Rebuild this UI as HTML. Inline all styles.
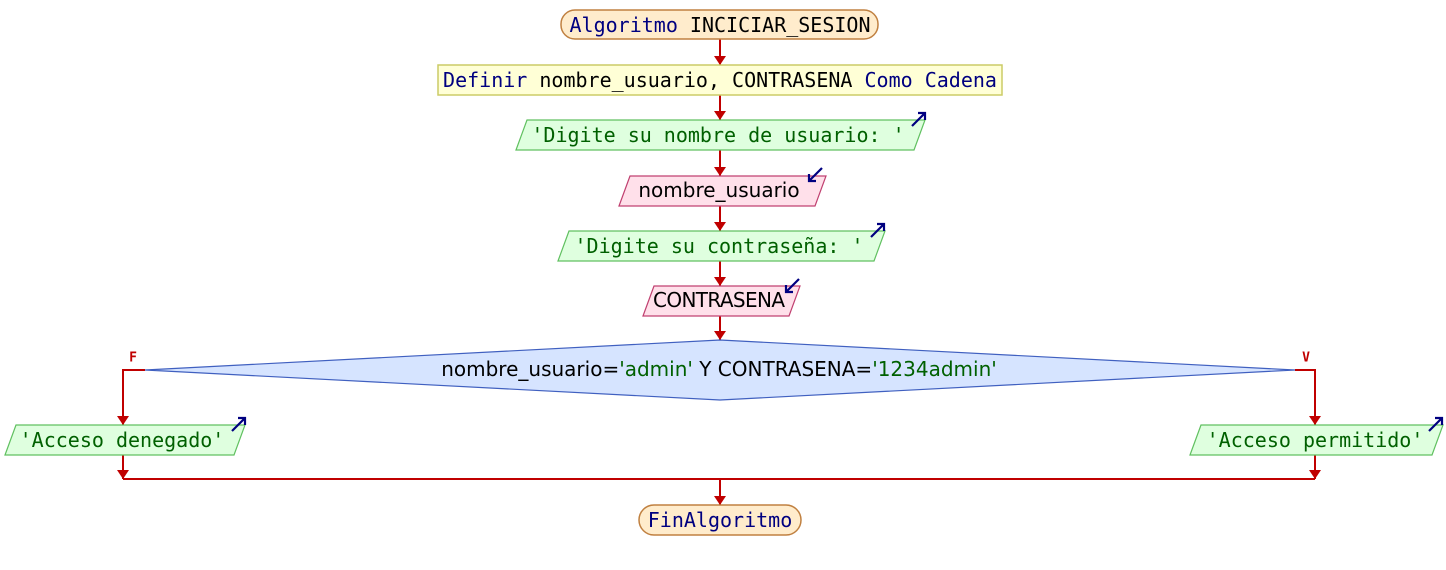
<!DOCTYPE html>
<html><head><meta charset="utf-8"><style>
html,body{margin:0;padding:0;background:#fff}
svg{display:block}
text{font-family:"DejaVu Sans Mono","Liberation Mono",monospace;font-size:20px;dominant-baseline:central;text-anchor:middle}
.p{font-family:"DejaVu Sans","Liberation Sans",sans-serif}
.ln{stroke:#c00000;stroke-width:2;fill:none}
.ah{fill:#c00000}
.io{stroke:#000080;stroke-width:2.2;fill:none}
</style></head><body>
<svg width="1446" height="570" viewBox="0 0 1446 570">
<defs>
<g id="ah"><path class="ah" d="M-6,-9 L6,-9 L0,0 Z"/></g>
<g id="out"><path class="io" d="M0,13 L13,0 M6,0 L13,0 L13,7"/></g>
<g id="in"><path class="io" d="M13,0 L0,13 M0,6 L0,13 L7,13"/></g>
</defs>
<path class="ln" d="M720,39 V65 M720,95 V120 M720,150 V176 M720,206 V231 M720,261 V286 M720,316 V340"/>
<use href="#ah" x="720" y="65"/><use href="#ah" x="720" y="120"/><use href="#ah" x="720" y="176"/><use href="#ah" x="720" y="231"/><use href="#ah" x="720" y="286"/><use href="#ah" x="720" y="340"/>
<path class="ln" d="M145,370 H123 V425 M1295,370 H1315 V425 M123,455 V479 M1315,455 V479 M123,479 H1315 M720,479 V505"/>
<use href="#ah" x="123" y="425"/><use href="#ah" x="1315" y="425"/><use href="#ah" x="123" y="479"/><use href="#ah" x="1315" y="479"/><use href="#ah" x="720" y="505"/>
<text x="133" y="358" style="font-size:13px;font-weight:bold;fill:#c00000">F</text>
<text x="1306" y="358" style="font-size:13px;font-weight:bold;fill:#c00000">V</text>
<rect x="561" y="10" width="317" height="29" rx="14" fill="#ffeccc" stroke="#c08040" stroke-width="1.5"/>
<text x="720" y="25"><tspan fill="#000080">Algoritmo</tspan><tspan fill="#000"> INCICIAR_SESION</tspan></text>
<rect x="438" y="65" width="564" height="30" fill="#ffffd6" stroke="#cccc66" stroke-width="1.5"/>
<text x="720" y="80"><tspan fill="#000080">Definir</tspan><tspan fill="#000"> nombre_usuario, CONTRASENA </tspan><tspan fill="#000080">Como Cadena</tspan></text>
<path d="M516,150 L527,120 L925,120 L914,150 Z" fill="#dfffdf" stroke="#60c060" stroke-width="1.2"/>
<text x="718" y="135" fill="#006000">'Digite su nombre de usuario: '</text>
<use href="#out" x="912" y="113"/>
<path d="M619,206 L630,176 L826,176 L815,206 Z" fill="#ffe0ea" stroke="#c04070" stroke-width="1.2"/>
<text class="p" x="719" y="190" fill="#000">nombre_usuario</text>
<use href="#in" x="809" y="168"/>
<path d="M558,261 L569,231 L885,231 L874,261 Z" fill="#dfffdf" stroke="#60c060" stroke-width="1.2"/>
<text x="719" y="246" fill="#006000">'Digite su contraseña: '</text>
<use href="#out" x="871" y="224"/>
<path d="M643,316 L654,286 L800,286 L789,316 Z" fill="#ffe0ea" stroke="#c04070" stroke-width="1.2"/>
<text class="p" x="719" y="300" fill="#000" textLength="132">CONTRASENA</text>
<use href="#in" x="786" y="279"/>
<path d="M145,370 L720,340 L1295,370 L720,400 Z" fill="#d6e4ff" stroke="#4060c0" stroke-width="1.2"/>
<text class="p" x="719" y="369"><tspan fill="#000">nombre_usuario=</tspan><tspan fill="#006000">'admin'</tspan><tspan fill="#000"> Y CONTRASENA=</tspan><tspan fill="#006000">'1234admin'</tspan></text>
<path d="M5,455 L16,425 L245,425 L234,455 Z" fill="#dfffdf" stroke="#60c060" stroke-width="1.2"/>
<text x="122" y="440" fill="#006000">'Acceso denegado'</text>
<use href="#out" x="232" y="418"/>
<path d="M1190,455 L1201,425 L1443,425 L1432,455 Z" fill="#dfffdf" stroke="#60c060" stroke-width="1.2"/>
<text x="1315" y="440" fill="#006000">'Acceso permitido'</text>
<use href="#out" x="1429" y="418"/>
<rect x="639" y="505" width="162" height="30" rx="15" fill="#ffeccc" stroke="#c08040" stroke-width="1.5"/>
<text x="720" y="520" fill="#000080">FinAlgoritmo</text>
</svg>
</body></html>
